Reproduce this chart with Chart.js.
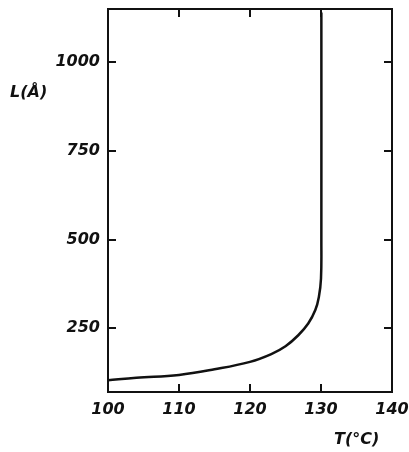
<!DOCTYPE html>
<html>
<head>
<meta charset="utf-8">
<script src="https://cdn.jsdelivr.net/npm/chart.js@4.4.1/dist/chart.umd.min.js"></script>
<style>
html,body{margin:0;padding:0;background:#fff;}
#wrap{width:409px;height:452px;position:relative;}
</style>
</head>
<body>
<div id="wrap"><canvas id="c" width="409" height="452"></canvas></div>
<script>
// Data
const temperatureC = [100, 104, 110, 115, 120, 123, 125, 126.8, 128.2, 129.2, 129.7, 130, 130.05, 130.05];
const lengthA      = [103, 110, 118, 134, 155, 177, 199, 230, 263, 301, 338, 390, 500, 1140];
const xTickValues = [100, 110, 120, 130, 140];
const yTickValues = [250, 500, 750, 1000];
const xTitle = 'T(°C)';
const yTitle = 'L(Å)';

const points = temperatureC.map((t, i) => ({x: t, y: lengthA[i]}));

const tickFont = {family: '"DejaVu Sans"', size: 16, style: 'italic', weight: 'bold'};
const ink = '#111';

function fixTicks(values) {
  return function(scale) { scale.ticks = values.map(v => ({value: v})); };
}
function sized(prop, val) {
  return function(s) {
    s[prop] = val;
    s.paddingLeft = 0; s.paddingRight = 0; s.paddingTop = 0; s.paddingBottom = 0;
  };
}

const titlePlugin = {
  id: 'axisTitles',
  afterDraw(chart) {
    const ctx = chart.ctx;
    ctx.save();
    ctx.fillStyle = ink;
    ctx.font = 'italic bold 16px "DejaVu Sans"';
    ctx.textBaseline = 'middle';
    ctx.textAlign = 'left';
    ctx.fillText(yTitle, 10, 93);
    ctx.fillText(xTitle, 334, 440);
    ctx.restore();
  }
};

const commonGrid = {drawOnChartArea: false, drawTicks: true, tickLength: -8, color: ink, lineWidth: 2};
const commonBorder = {display: true, color: ink, width: 2};

new Chart(document.getElementById('c'), {
  type: 'line',
  data: {
    datasets: [{
      data: points,
      borderColor: ink,
      borderWidth: 2.5,
      pointRadius: 0,
      tension: 0.4,
      fill: false
    }]
  },
  options: {
    responsive: false,
    animation: false,
    layout: {padding: 0},
    plugins: {legend: {display: false}, tooltip: {enabled: false}},
    scales: {
      x: {
        type: 'linear', position: 'bottom', min: 100, max: 140,
        afterBuildTicks: fixTicks(xTickValues),
        afterFit: sized('height', 60),
        grid: commonGrid, border: commonBorder,
        ticks: {color: ink, font: tickFont, padding: 16, maxRotation: 0, callback: v => v}
      },
      x2: {
        type: 'linear', position: 'top', min: 100, max: 140,
        afterBuildTicks: fixTicks(xTickValues.slice(1, -1)),
        afterFit: sized('height', 9),
        grid: commonGrid, border: commonBorder,
        ticks: {display: false}
      },
      y: {
        type: 'linear', position: 'left', min: 70, max: 1150,
        afterBuildTicks: fixTicks(yTickValues),
        afterFit: sized('width', 108),
        grid: commonGrid, border: commonBorder,
        ticks: {color: ink, font: tickFont, padding: 16, callback: v => v}
      },
      y2: {
        type: 'linear', position: 'right', min: 70, max: 1150,
        afterBuildTicks: fixTicks(yTickValues),
        afterFit: sized('width', 17),
        grid: commonGrid, border: commonBorder,
        ticks: {display: false}
      }
    }
  },
  plugins: [titlePlugin]
});
</script>
</body>
</html>
